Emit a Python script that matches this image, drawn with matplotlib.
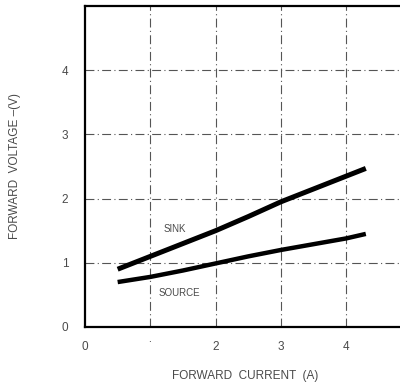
import matplotlib
matplotlib.use("Agg")
import matplotlib.pyplot as plt

# forward current (A) vs forward voltage (V)
sink_current = [0.5, 1.0, 1.5, 2.0, 2.5, 3.0, 3.5, 4.0, 4.3]
sink_voltage = [0.90, 1.10, 1.30, 1.50, 1.72, 1.95, 2.15, 2.35, 2.47]
source_current = [0.5, 1.0, 1.5, 2.0, 2.5, 3.0, 3.5, 4.0, 4.3]
source_voltage = [0.70, 0.78, 0.88, 0.99, 1.10, 1.20, 1.29, 1.38, 1.45]

x_ticks = [0, 1, 2, 3, 4]
x_tick_labels = ["0", "\u02d9", "2", "3", "4"]
y_ticks = [0, 1, 2, 3, 4]
y_tick_labels = ["0", "1", "2", "3", "4"]

plt.rcParams['font.family'] = ['Liberation Sans', 'DejaVu Sans']
text_color = "#4a4a4a"

fig = plt.figure(figsize=(4.0, 3.89), dpi=100)
ax = fig.add_axes([0.2125, 0.1594, 0.80, 0.8252])

ax.set_xlim(0, 4.9)
ax.set_ylim(0, 5.0)

# dash-dot grid like the datasheet
for v in x_ticks[1:]:
    ax.axvline(v, color="#555555", lw=0.8, ls=(0, (8, 3, 1, 3)), zorder=1)
for v in y_ticks[1:]:
    ax.axhline(v, color="#555555", lw=0.8, ls=(0, (8, 3, 1, 3)), zorder=1)

ax.plot(sink_current, sink_voltage, color="black", lw=3.6, solid_capstyle="butt", zorder=3)
ax.plot(source_current, source_voltage, color="black", lw=3.2, solid_capstyle="butt", zorder=3)

ax.text(1.2, 1.52, "SINK", fontsize=7, color=text_color, ha="left", va="center")
ax.text(1.12, 0.53, "SOURCE", fontsize=7, color=text_color, ha="left", va="center")

ax.set_xticks(x_ticks)
ax.set_xticklabels(x_tick_labels)
ax.set_yticks(y_ticks)
ax.set_yticklabels(y_tick_labels)
ax.tick_params(length=0, labelsize=8.5, colors=text_color)
ax.tick_params(axis="x", pad=10)
ax.tick_params(axis="y", pad=12)

for s in ["left", "bottom", "top"]:
    ax.spines[s].set_linewidth(1.6)
    ax.spines[s].set_color("black")
ax.spines["right"].set_visible(False)

ax.set_xlabel("FORWARD  CURRENT  (A)", fontsize=8.5, color=text_color, labelpad=12)
ax.set_ylabel("FORWARD  VOLTAGE \u2013(V)", fontsize=8.5, color=text_color, labelpad=29)

fig.savefig("out.png", dpi=100)
